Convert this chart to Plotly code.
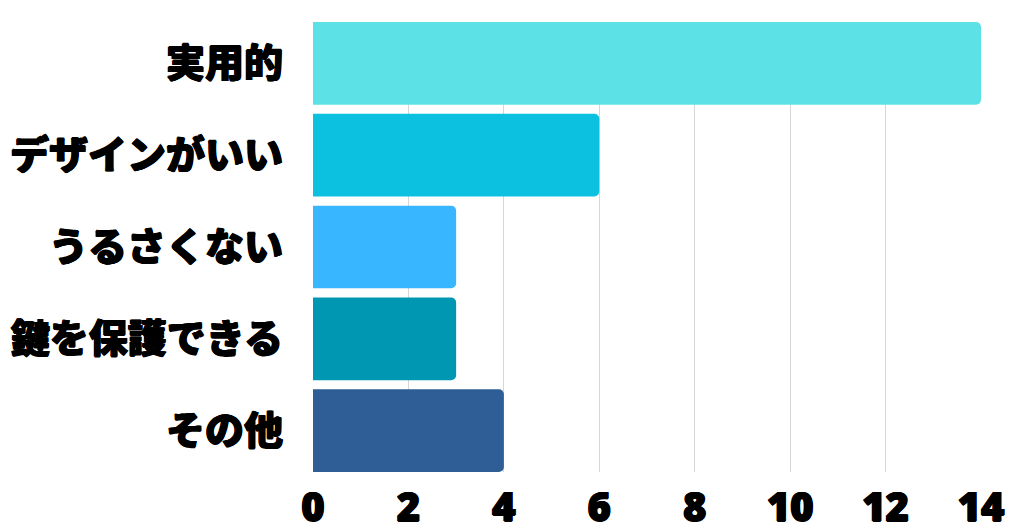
import plotly.graph_objects as go

categories = ['実用的', 'デザインがいい', 'うるさくない', '鍵を保護できる', 'その他']
counts = [14, 6, 3, 3, 4]
bar_colors = ['#5CE1E6', '#0CC0DF', '#38B6FF', '#0097B2', '#2E5E95']
x_ticks = [0, 2, 4, 6, 8, 10, 12, 14]

# heavier look for the labels (the original uses a black-weight face)
thick = '0.8px 0 0 black, -0.8px 0 0 black, 0 0.5px 0 black, 0 -0.5px 0 black'

fig = go.Figure(go.Bar(
    x=counts, y=categories, orientation='h',
    marker=dict(color=bar_colors, line=dict(width=0), cornerradius=5),
    hoverinfo='x+y'
))

# page body adds an 8px margin, so the figure is sized to fit inside it
fig.update_layout(
    width=1014, height=524,
    margin=dict(l=305, r=41, t=14, b=60),
    paper_bgcolor='white', plot_bgcolor='white',
    bargap=0.1, showlegend=False,
    font=dict(family='Noto Sans CJK JP, Open Sans, sans-serif', color='black'),
)
fig.update_xaxes(
    range=[0, 14], tickvals=x_ticks, automargin=False,
    showgrid=True, gridcolor='#d6d6d6', gridwidth=1, zeroline=False,
    showline=False, ticks='', ticklabelstandoff=8,
    tickfont=dict(family='Open Sans', size=40, weight=800, color='black', shadow=thick),
)
fig.update_yaxes(
    range=[4.45, -0.45], automargin=False, showgrid=False, showline=False, ticks='',
    ticklabelstandoff=29,
    tickfont=dict(family='Noto Sans CJK JP', size=39, weight=900, color='black', shadow=thick),
)

fig.write_html('out.html')
